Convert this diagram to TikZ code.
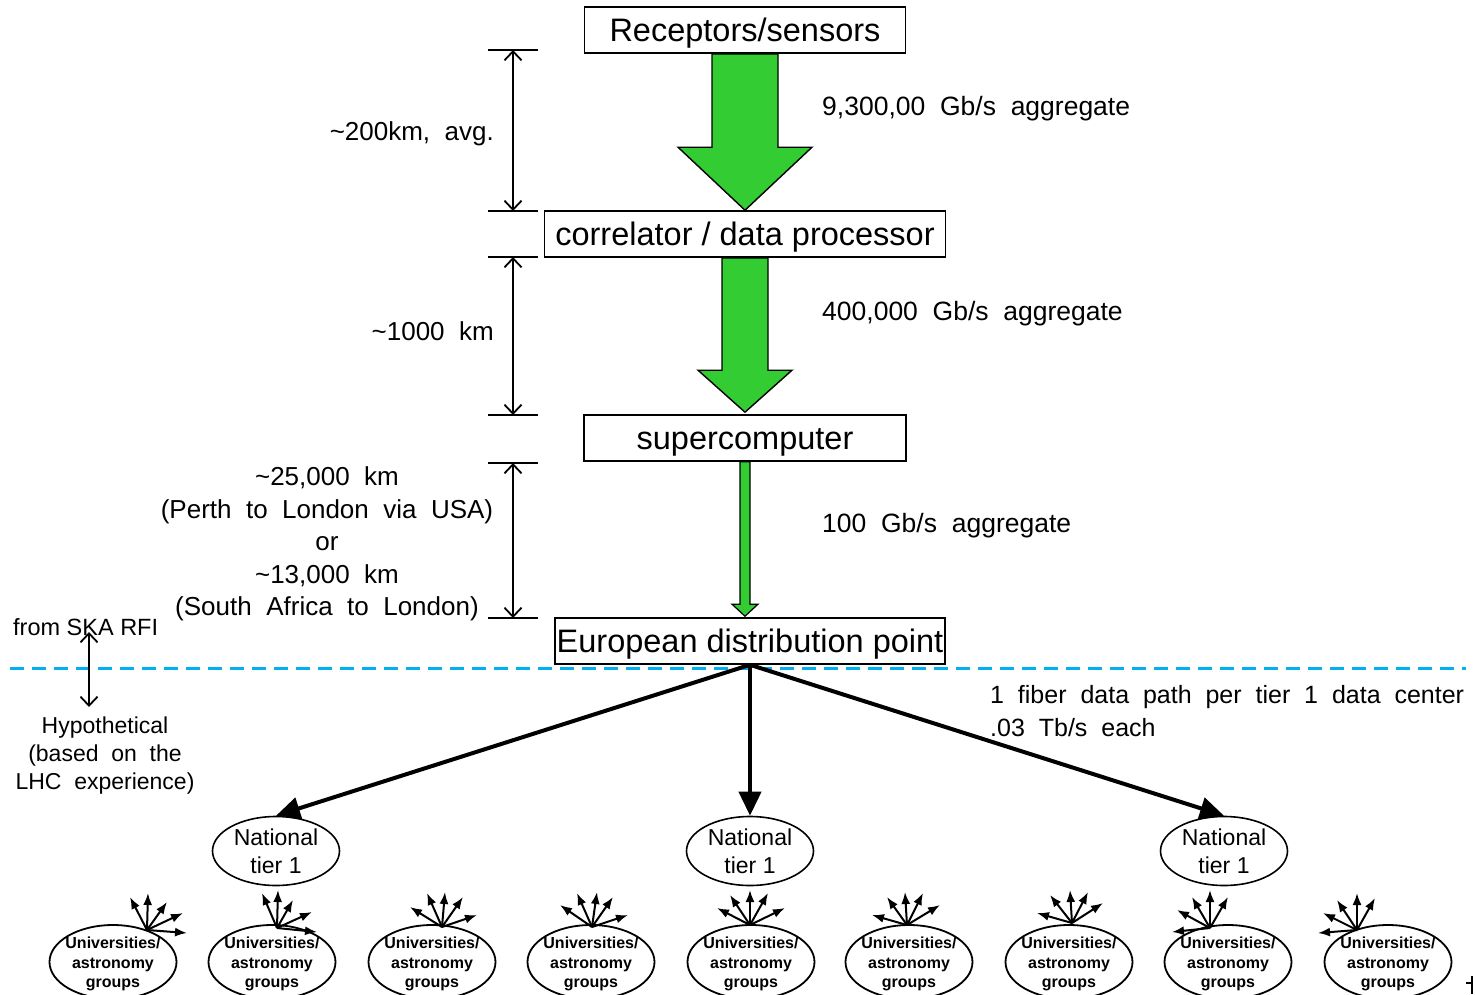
\documentclass[tikz,border=0pt]{standalone}
\usepackage{fontspec}
\setmainfont{Liberation Sans}
\newfontfamily\widesp[WordSpace=2]{Liberation Sans}
\usetikzlibrary{arrows.meta,calc,shapes.geometric}
\definecolor{flowgreen}{RGB}{51,204,51}
\definecolor{divider}{RGB}{0,176,240}

% a fan of small arrows leaving one point: name, origin, list of dx/dy
\newcommand\sparkfan[3]{%
  \coordinate (#1) at #2;
  \foreach \dx/\dy in {#3} \draw[spark] (#1) -- ++(\dx,\dy);}

\begin{document}
\begin{tikzpicture}[x=1pt,y=-1pt,
  stage/.style={draw,line width=1.6pt,inner sep=0pt,minimum height=46pt,
    text height=23.2pt,text depth=0pt,font=\fontsize{32.5}{36}\selectfont},
  flow/.style={draw=black,line width=1.4pt,fill=flowgreen,line join=miter},
  tick/.style={line width=1.8pt},
  dim/.style={line width=1.8pt,
    {Straight Barb[length=9pt,width=17pt]}-{Straight Barb[length=9pt,width=17pt]}},
  dist/.style={inner sep=0pt,font=\widesp\fontsize{26}{32.5}\selectfont},
  rate/.style={inner sep=0pt,anchor=west,text height=18.8pt,text depth=0pt,
    font=\widesp\fontsize{26.5}{30}\selectfont},
  side/.style={inner sep=0pt,font=\widesp\fontsize{23}{28}\selectfont},
  feed/.style={line width=4pt,-{Triangle[length=24pt,width=22pt]}},
  tier/.style={ellipse,draw,line width=1.6pt,minimum width=127pt,minimum height=69pt,
    inner sep=-4pt,align=center,font=\fontsize{23}{28}\selectfont},
  group/.style={ellipse,draw,line width=1.8pt,minimum width=127pt,minimum height=74pt,
    inner sep=0pt},
  grouptext/.style={inner sep=0pt,align=center,font=\bfseries\fontsize{16}{19.5}\selectfont},
  spark/.style={line width=2pt,-{Latex[length=12pt,width=9pt]}},
]
\useasboundingbox (0,0) rectangle (1476,994);

% processing chain
\node[stage,minimum width=321pt] (rec) at (745,30)  {Receptors/sensors};
\node[stage,minimum width=401pt] (cor) at (745,234) {correlator / data processor};
\node[stage,minimum width=322pt] (sup) at (745,438) {supercomputer};
\node[stage,minimum width=390pt] (eur) at (750,641) {European distribution point};

% data-rate arrows
\draw[flow] ($(rec.south)+(-33,0)$) -- ($(cor.north)+(-33,-63)$) -- ($(cor.north)+(-67,-63)$)
  -- (cor.north) -- ($(cor.north)+(67,-63)$) -- ($(cor.north)+(33,-63)$)
  -- ($(rec.south)+(33,0)$) -- cycle;
\draw[flow] ($(cor.south)+(-23,0)$) -- ($(sup.north)+(-23,-44)$) -- ($(sup.north)+(-47,-44)$)
  -- ($(sup.north)+(0,-2)$) -- ($(sup.north)+(47,-44)$) -- ($(sup.north)+(23,-44)$)
  -- ($(cor.south)+(23,0)$) -- cycle;
\draw[flow,line width=1.2pt] ($(sup.south)+(-5,0)$) -- ($(eur.north)+(-10,-13)$) -- ($(eur.north)+(-18,-13)$)
  -- ($(eur.north)+(-5,-1)$) -- ($(eur.north)+(8,-13)$) -- ($(eur.north)+(0,-13)$)
  -- ($(sup.south)+(5,0)$) -- cycle;

\node[rate] (r1) at (822,106) {9,300,00 Gb/s aggregate};
\node[rate] (r2) at (822,311) {400,000 Gb/s aggregate};
\node[rate] (r3) at (822,523) {100 Gb/s aggregate};

% distance markers
\coordinate (d1a) at (513,50);  \coordinate (d1b) at (513,211);
\coordinate (d2a) at (513,257); \coordinate (d2b) at (513,415);
\coordinate (d3a) at (513,463); \coordinate (d3b) at (513,618);
\foreach \c in {d1a,d1b,d2a,d2b,d3a,d3b}
  \draw[tick] ($(\c)+(-25,0)$) -- ($(\c)+(25,0)$);
\draw[dim] (d1a) -- (d1b);
\draw[dim] (d2a) -- (d2b);
\draw[dim] (d3a) -- (d3b);

\node[dist,anchor=east] (l1) at (494,134) {\textasciitilde200km, avg.};
\node[dist,anchor=east] (l2) at (494,331) {\textasciitilde1000 km};
\node[dist,align=center] (l3) at (327,544)
  {\textasciitilde25,000 km\\(Perth to London via USA)\\or\\\textasciitilde13,000 km\\(South Africa to London)};

% boundary between SKA part and hypothetical part
\coordinate (divL) at (10,668);
\coordinate (divR) at (1466,668);
\draw[divider,line width=3pt,dash pattern=on 14pt off 8pt] (divL) -- (divR);

\node[inner sep=0pt,anchor=west,font=\fontsize{23.5}{28}\selectfont] (ska) at (13,627) {from SKA RFI};
\node[side,align=center] (hyp) at (105,756) {Hypothetical\\(based on the\\LHC experience)};
\coordinate (skaTop) at (89,632);
\coordinate (skaBot) at (89,707);
\draw[dim] (skaTop) -- (skaBot);

\node[anchor=west,inner sep=0pt,align=left,font=\widesp\fontsize{25}{33}\selectfont] (fiber) at (990,711.5)
  {1 fiber data path per tier 1 data center\\.03 Tb/s each};

% national tier 1 centres
\node[tier] (nat1) at (276,851)  {National\\tier 1};
\node[tier] (nat2) at (750,851)  {National\\tier 1};
\node[tier] (nat3) at (1224,851) {National\\tier 1};
\draw[feed] (eur.south) -- (nat1.north);
\draw[feed] (eur.south) -- (nat2.north);
\draw[feed] (eur.south) -- (nat3.north);

% university groups
\foreach \x [count=\i] in {113,272,432,591,751,909,1069,1228,1388}{
  \node[group] (grp\i) at (\x,962) {};
  \node[grouptext] (grpt\i) at ($(grp\i.center)+(0,2)$) {Universities/\\astronomy\\groups};
}

\sparkfan{f1}{(147,930)}{-17/-33,1/-37,20/-28,36/-17,40/3}
\sparkfan{f2}{(277,928)}{-15/-35,1/-38,16/-28,35/-16,40/4}
\sparkfan{f3}{(442,927)}{-32/-20,-15/-34,3/-35,21/-30,35/-12}
\sparkfan{f4}{(592,927)}{-32/-22,-15/-34,5/-35,21/-30,36/-12}
\sparkfan{f5}{(750,925)}{-33/-17,-20/-30,0/-35,18/-32,35/-17}
\sparkfan{f6}{(907,925)}{-35/-10,-20/-28,-2/-33,16/-32,33/-20}
\sparkfan{f7}{(1072,923)}{-35/-10,-22/-28,-2/-33,16/-31,31/-20}
\sparkfan{f8}{(1210,928)}{-38/4,-33/-18,-18/-31,0/-38,18/-31}
\sparkfan{f9}{(1357,930)}{-39/3,-34/-17,-20/-30,0/-37,18/-32}

% small corner mark
\coordinate (m1) at (1472,976);
\coordinate (m2) at (1472,994);
\coordinate (m3) at (1466,983);
\draw[line width=2pt] (m1) -- (m2) (m3) -- (m1 |- m3);
\end{tikzpicture}
\end{document}
